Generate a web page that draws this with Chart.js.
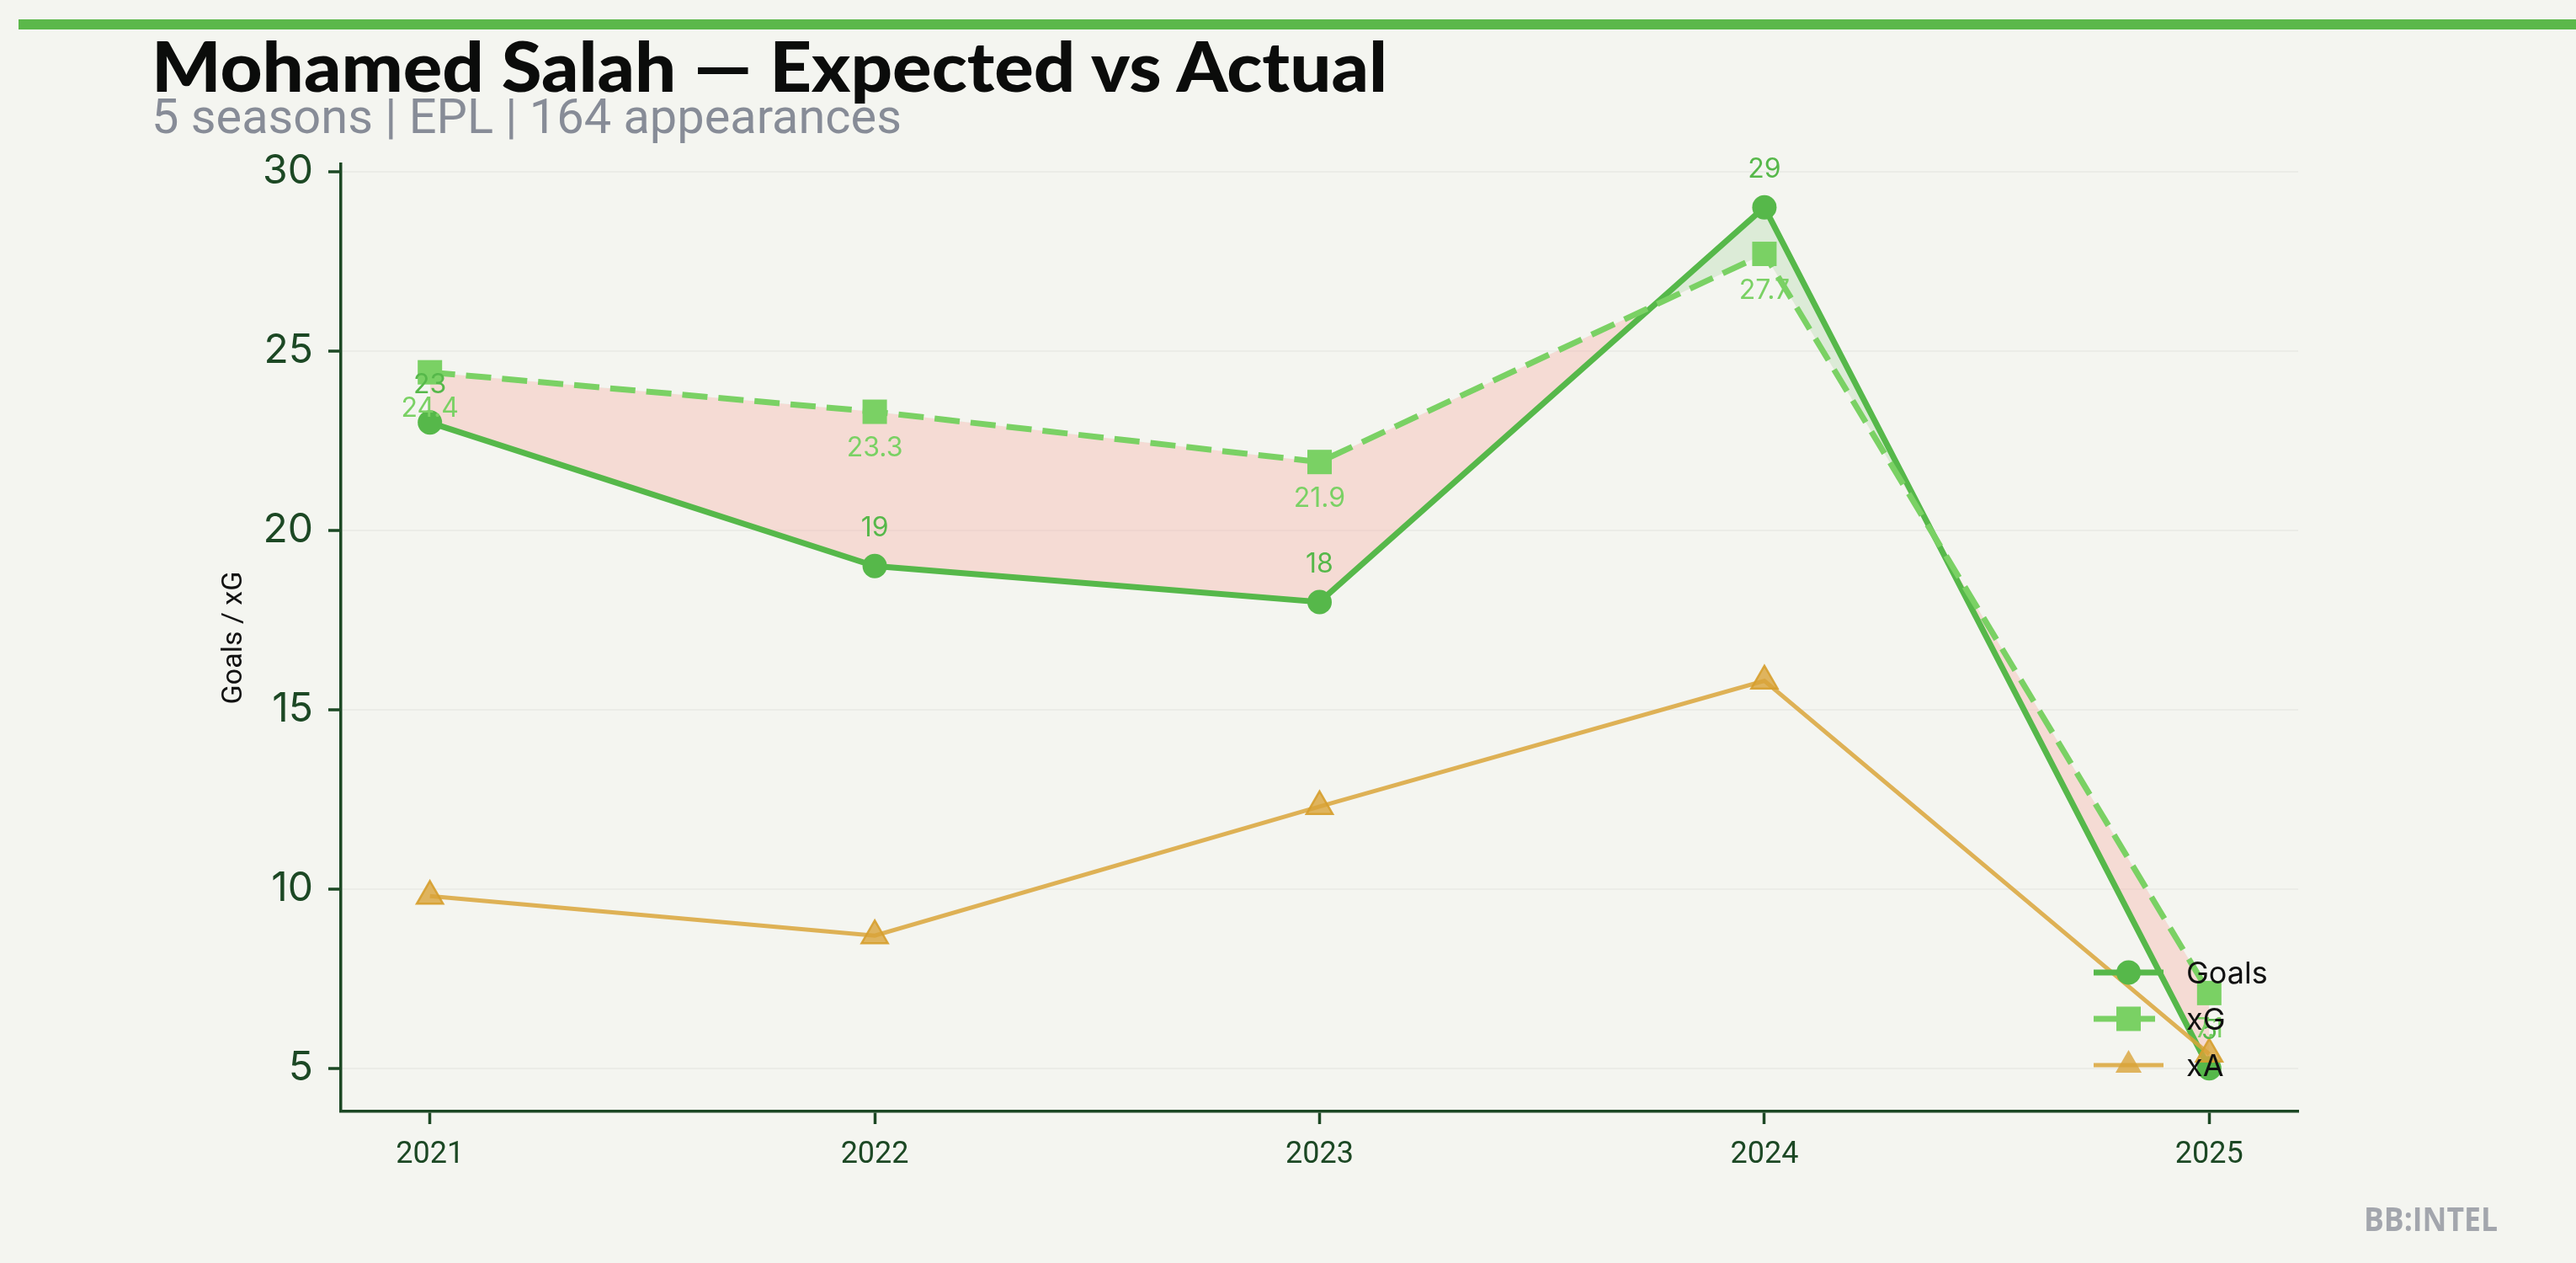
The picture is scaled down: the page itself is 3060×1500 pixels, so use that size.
<!DOCTYPE html>
<html>
<head>
<meta charset="utf-8">
<title>Mohamed Salah — Expected vs Actual</title>
<script src="https://cdn.jsdelivr.net/npm/chart.js@4.4.1/dist/chart.umd.min.js"></script>
<style>
  body { margin: 0; background: #f4f5f0; width: 3060px; height: 1500px; overflow: hidden; position: relative; }
  #chart { position: absolute; left: 0; top: 0; }
  #bar { position: absolute; left: 22px; right: 0; top: 23px; height: 12px; background: #5bb84a; }
  .fit { position: absolute; white-space: nowrap; display: inline-block; transform-origin: left top; line-height: 1; }
  #title { left: 180px; top: 36px; font-family: Lato, sans-serif; font-weight: 900; font-size: 82px; color: #0b0c0b; }
  #subtitle { left: 180px; top: 109px; font-family: Roboto, sans-serif; font-size: 58px; color: #878c97; }
  #mark { left: 2808px; top: 1427px; font-family: "Open Sans", sans-serif; font-weight: 700; font-size: 40px; color: #a3a6ad; }
</style>
</head>
<body>
<canvas id="chart" width="3060" height="1500"></canvas>
<div id="bar"></div>
<div id="title" class="fit" data-w="1468">Mohamed Salah — Expected vs Actual</div>
<div id="subtitle" class="fit" data-w="891">5 seasons | EPL | 164 appearances</div>
<div id="mark" class="fit" data-w="159">BB:INTEL</div>
<script>
// values
var seasons = [2021, 2022, 2023, 2024, 2025];
var goals = [23, 19, 18, 29, 5];
var xG = [24.4, 23.3, 21.9, 27.7, 7.1];
var xA = [9.8, 8.7, 12.3, 15.8, 5.4];
var yTicks = [5, 10, 15, 20, 25, 30];

var axisColor = '#1c4824';
var goalsColor = '#56b84a';
var xgColor = '#7ad164';

function points(values) {
    return seasons.map(function (s, i) { return { x: s, y: values[i] }; });
}

// squeeze the html texts to the widths seen in the reference
document.querySelectorAll('.fit').forEach(function (el) {
    var w = el.getBoundingClientRect().width;
    el.style.transform = 'scaleX(' + (Number(el.dataset.w) / w) + ')';
});

function drawMarker(ctx, style, x, y, r) {
    ctx.beginPath();
    if (style === 'circle') {
        ctx.arc(x, y, r, 0, Math.PI * 2);
    } else if (style === 'rect') {
        var h = r * Math.SQRT1_2;
        ctx.rect(x - h, y - h, 2 * h, 2 * h);
    } else {
        for (var k = 0; k < 3; k++) {
            var a = k * 2 * Math.PI / 3;
            ctx[k ? 'lineTo' : 'moveTo'](x + Math.sin(a) * r, y - Math.cos(a) * r);
        }
        ctx.closePath();
    }
    ctx.fill();
}

var valueLabels = {
    id: 'valueLabels',
    afterDatasetsDraw: function (chart) {
        var ctx = chart.ctx;
        ctx.save();
        ctx.font = '32px Inter';
        ctx.textAlign = 'center';
        ctx.textBaseline = 'alphabetic';
        ctx.fillStyle = goalsColor;
        chart.getDatasetMeta(0).data.forEach(function (pt, i) {
            ctx.fillText(String(goals[i]), pt.x, pt.y - 35);
        });
        ctx.fillStyle = xgColor;
        chart.getDatasetMeta(1).data.forEach(function (pt, i) {
            ctx.fillText(xG[i].toFixed(1), pt.x, pt.y + 53);
        });
        ctx.restore();
    }
};

var innerLegend = {
    id: 'innerLegend',
    afterDraw: function (chart) {
        var ctx = chart.ctx;
        var area = chart.chartArea;
        chart.data.datasets.forEach(function (ds, i) {
            var y = area.bottom - 165 + i * 55;
            var x0 = area.right - 243, x1 = area.right - 160;
            ctx.save();
            ctx.strokeStyle = ds.borderColor;
            ctx.lineWidth = ds.borderWidth;
            ctx.setLineDash(ds.borderDash || []);
            ctx.beginPath();
            ctx.moveTo(x0, y);
            ctx.lineTo(x1, y);
            ctx.stroke();
            ctx.setLineDash([]);
            ctx.fillStyle = ds.pointBackgroundColor;
            drawMarker(ctx, ds.pointStyle, (x0 + x1) / 2, y, ds.pointRadius);
            ctx.fillStyle = '#111';
            ctx.font = '36px Inter';
            ctx.textBaseline = 'middle';
            ctx.fillText(ds.label, area.right - 133, y + 2);
            ctx.restore();
        });
    }
};

var ctx = document.getElementById('chart').getContext('2d');

var salahChart = new Chart(ctx, {
    type: 'line',
    data: {
        datasets: [{
            label: 'Goals',
            data: points(goals),
            borderColor: goalsColor,
            backgroundColor: goalsColor,
            pointBackgroundColor: goalsColor,
            borderWidth: 7,
            pointStyle: 'circle',
            pointRadius: 14.5,
            pointBorderWidth: 0,
            fill: { target: 1, above: 'rgba(86,184,74,0.15)', below: 'rgba(248,160,150,0.3)' },
            order: 3
        }, {
            label: 'xG',
            data: points(xG),
            borderColor: xgColor,
            backgroundColor: xgColor,
            pointBackgroundColor: xgColor,
            borderWidth: 7,
            borderDash: [30, 13],
            pointStyle: 'rect',
            pointRadius: 20.5,
            pointBorderWidth: 0,
            fill: false,
            order: 2
        }, {
            label: 'xA',
            data: points(xA),
            borderColor: 'rgba(217,164,58,0.85)',
            backgroundColor: 'rgba(217,164,58,0.8)',
            pointBackgroundColor: 'rgba(217,164,58,0.8)',
            pointBorderColor: 'rgba(214,158,45,0.9)',
            borderWidth: 5,
            pointStyle: 'triangle',
            pointRadius: 18,
            pointBorderWidth: 2.5,
            fill: false,
            order: 1
        }]
    },
    options: {
        responsive: false,
        animation: false,
        devicePixelRatio: 1,
        layout: { padding: { left: 0, top: 195, right: 330, bottom: 0 } },
        plugins: {
            legend: { display: false },
            tooltip: { enabled: false }
        },
        scales: {
            x: {
                type: 'linear',
                min: 2020.8,
                max: 2025.2,
                afterBuildTicks: function (scale) {
                    scale.ticks = seasons.map(function (v) { return { value: v }; });
                },
                afterFit: function (scale) { scale.height = 180; },
                ticks: {
                    color: axisColor,
                    font: { family: 'Roboto', size: 36 },
                    padding: 15,
                    maxRotation: 0,
                    autoSkip: false,
                    callback: function (v) { return String(v); }
                },
                grid: { drawOnChartArea: false, drawTicks: true, tickLength: 15, tickColor: axisColor, tickWidth: 3.5 },
                border: { display: true, color: axisColor, width: 3.5 }
            },
            y: {
                min: 3.8,
                max: 30.2,
                afterBuildTicks: function (scale) {
                    scale.ticks = yTicks.map(function (v) { return { value: v }; });
                },
                afterFit: function (scale) { scale.width = 405; },
                ticks: {
                    color: axisColor,
                    font: { family: 'Inter', size: 48 },
                    padding: 18
                },
                grid: { color: 'rgba(0,0,0,0.035)', lineWidth: 2, drawTicks: true, tickLength: 15, tickColor: axisColor, tickWidth: 3.5 },
                border: { display: true, color: axisColor, width: 3.5 },
                title: {
                    display: true,
                    text: 'Goals / xG',
                    color: '#111',
                    font: { family: 'Roboto', size: 34 },
                    padding: { top: 258, bottom: 0 }
                }
            }
        }
    },
    plugins: [valueLabels, innerLegend]
});
</script>
</body>
</html>
